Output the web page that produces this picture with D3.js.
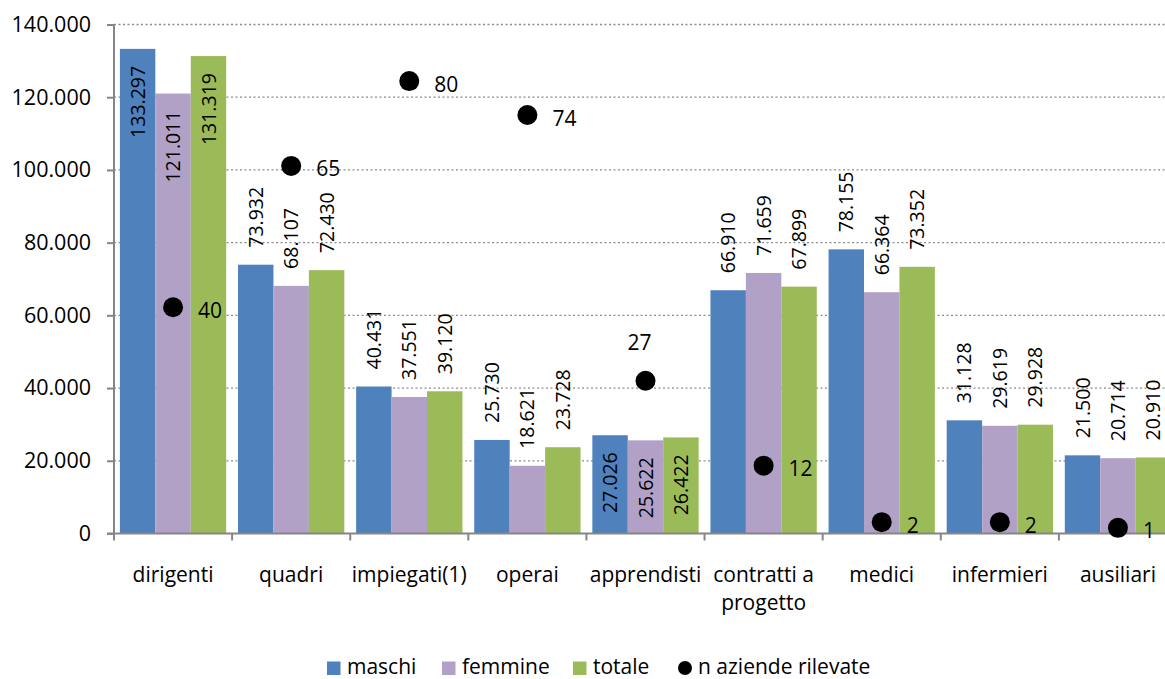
<!DOCTYPE html>
<html>
<head>
<meta charset="utf-8">
<script src="https://cdn.jsdelivr.net/npm/d3@7"></script>
<style>
  body { margin: 0; background: #fff; }
  svg { font-family: "Open Sans", sans-serif; }
</style>
</head>
<body>
<div class="chart"></div>
<script>
// data
const categories = ["dirigenti", "quadri", "impiegati(1)", "operai", "apprendisti",
    "contratti a progetto", "medici", "infermieri", "ausiliari"];
const maschi  = [133297, 73932, 40431, 25730, 27026, 66910, 78155, 31128, 21500];
const femmine = [121011, 68107, 37551, 18621, 25622, 71659, 66364, 29619, 20714];
const totale  = [131319, 72430, 39120, 23728, 26422, 67899, 73352, 29928, 20910];
const aziende = [40, 65, 80, 74, 27, 12, 2, 2, 1];
const seriesNames = ["maschi", "femmine", "totale"];
const dotName = "n aziende rilevate";
const yTicks = [0, 20000, 40000, 60000, 80000, 100000, 120000, 140000];

const colors = ["#4F81BD", "#B2A1C7", "#9BBB59"];
const series = [maschi, femmine, totale];

const it = d3.formatLocale({decimal: ",", thousands: ".", grouping: [3], currency: ["€", ""]});
const fmt = it.format(",d");

const width = 1165, height = 679;
const margin = ({top: 24.5, left: 114});
const innerW = 1177 - 114;
const innerH = 533.5 - 24.5;

const svg = d3.select(".chart")
    .append("svg")
    .attr("width", width)
    .attr("height", height);

const g = svg.append("g")
    .attr("transform", `translate(${margin.left},${margin.top})`);

const xScale = d3.scaleBand()
    .domain(categories)
    .range([0, innerW])
    .paddingInner(0.1)
    .paddingOuter(0.05);

const xInner = d3.scaleBand()
    .domain(seriesNames)
    .range([0, xScale.bandwidth()]);

const yScale = d3.scaleLinear()
    .domain([0, 140000])
    .range([innerH, 0]);

// secondary (hidden) axis for the dots
const y2Scale = d3.scaleLinear()
    .domain([0, 90])
    .range([innerH, 0]);

// gridlines
g.append("g")
    .selectAll("line")
    .data(yTicks.filter(d => d > 0))
    .enter()
    .append("line")
    .attr("x1", 0)
    .attr("x2", innerW)
    .attr("y1", d => yScale(d))
    .attr("y2", d => yScale(d))
    .attr("stroke", "#8c8c8c")
    .attr("stroke-width", 1.3)
    .attr("stroke-dasharray", "2,2.5");

// bars
const groups = g.selectAll(".cat")
    .data(categories)
    .enter()
    .append("g")
    .attr("class", "cat")
    .attr("transform", d => `translate(${xScale(d)},0)`);

const insideLabels = ["dirigenti", "apprendisti"];

seriesNames.forEach((s, si) => {
    groups.append("rect")
        .attr("x", xInner(s))
        .attr("width", xInner.bandwidth())
        .attr("y", (d, i) => yScale(series[si][i]))
        .attr("height", (d, i) => innerH - yScale(series[si][i]))
        .attr("fill", colors[si]);
});

seriesNames.forEach((s, si) => {
    groups.append("text")
        .attr("transform", (d, i) => {
            const cx = xInner(s) + xInner.bandwidth() / 2;
            const top = yScale(series[si][i]);
            const y = insideLabels.includes(d) ? top + 17 : top - 17;
            return `translate(${cx},${y}) rotate(-90)`;
        })
        .attr("text-anchor", d => insideLabels.includes(d) ? "end" : "start")
        .attr("dy", "0.36em")
        .attr("font-size", 19.5)
        .attr("fill", "#000")
        .text((d, i) => fmt(series[si][i]));
});

// axes
const yAxis = d3.axisLeft(yScale)
    .tickValues(yTicks)
    .tickSize(7)
    .tickPadding(16)
    .tickFormat(d => fmt(d));

const yAxisGroup = g.append("g")
    .attr("class", "axis y-axis")
    .call(yAxis);

const xAxisGroup = g.append("g")
    .attr("class", "axis x-axis")
    .attr("transform", `translate(0,${innerH})`);

xAxisGroup.append("line")
    .attr("x1", -7).attr("x2", innerW)
    .attr("stroke", "#868686").attr("stroke-width", 2);

xAxisGroup.selectAll(".xt")
    .data(d3.range(categories.length + 1))
    .enter()
    .append("line")
    .attr("x1", i => i * xScale.step())
    .attr("x2", i => i * xScale.step())
    .attr("y1", 0).attr("y2", 7)
    .attr("stroke", "#868686").attr("stroke-width", 2);

xAxisGroup.selectAll(".xl")
    .data(categories)
    .enter()
    .append("text")
    .attr("x", d => xScale(d) + xScale.bandwidth() / 2)
    .attr("y", 48)
    .attr("text-anchor", "middle")
    .attr("font-size", 21)
    .attr("fill", "#000")
    .each(function(d) {
        const lines = d === "contratti a progetto" ? ["contratti a", "progetto"] : [d];
        d3.select(this).selectAll("tspan")
            .data(lines)
            .enter()
            .append("tspan")
            .attr("x", d3.select(this).attr("x"))
            .attr("dy", (l, k) => k === 0 ? 0 : 28)
            .text(l => l);
    });

yAxisGroup.select(".domain").remove();
yAxisGroup.append("line")
    .attr("x1", 0).attr("x2", 0)
    .attr("y1", 0).attr("y2", innerH)
    .attr("stroke", "#868686").attr("stroke-width", 2);
yAxisGroup.selectAll(".tick line")
    .attr("stroke", "#868686").attr("stroke-width", 2);
yAxisGroup.selectAll(".tick text")
    .attr("font-size", 21.5)
    .attr("font-family", "'Open Sans', sans-serif")
    .attr("fill", "#000");

// dots
const dots = g.append("g");
dots.selectAll("circle")
    .data(aziende)
    .enter()
    .append("circle")
    .attr("cx", (d, i) => xScale(categories[i]) + xScale.bandwidth() / 2)
    .attr("cy", d => y2Scale(d))
    .attr("r", 10)
    .attr("fill", "#000");

dots.selectAll("text")
    .data(aziende)
    .enter()
    .append("text")
    .attr("x", (d, i) => {
        const cx = xScale(categories[i]) + xScale.bandwidth() / 2;
        return categories[i] === "apprendisti" ? cx - 6 : cx + 25;
    })
    .attr("y", (d, i) => categories[i] === "apprendisti" ? y2Scale(d) - 38 : y2Scale(d) + 3)
    .attr("text-anchor", (d, i) => categories[i] === "apprendisti" ? "middle" : "start")
    .attr("dy", "0.36em")
    .attr("font-size", 21)
    .attr("fill", "#000")
    .text(d => d);

// legend
const legend = svg.append("g")
    .attr("transform", "translate(0,666)");

const legendItems = [
    {name: seriesNames[0], color: colors[0], x: 327, type: "rect"},
    {name: seriesNames[1], color: colors[1], x: 442, type: "rect"},
    {name: seriesNames[2], color: colors[2], x: 573, type: "rect"},
    {name: dotName, color: "#000", x: 678, type: "circle"}
];

legendItems.forEach(item => {
    if (item.type === "rect") {
        legend.append("rect")
            .attr("x", item.x).attr("y", -4.5)
            .attr("width", 13.5).attr("height", 13.5)
            .attr("fill", item.color);
    } else {
        legend.append("circle")
            .attr("cx", item.x + 7).attr("cy", 2)
            .attr("r", 7).attr("fill", item.color);
    }
    legend.append("text")
        .attr("x", item.x + 20)
        .attr("y", 0)
        .attr("dy", "0.36em")
        .attr("font-size", 21)
        .attr("fill", "#000")
        .text(item.name);
});
</script>
</body>
</html>
